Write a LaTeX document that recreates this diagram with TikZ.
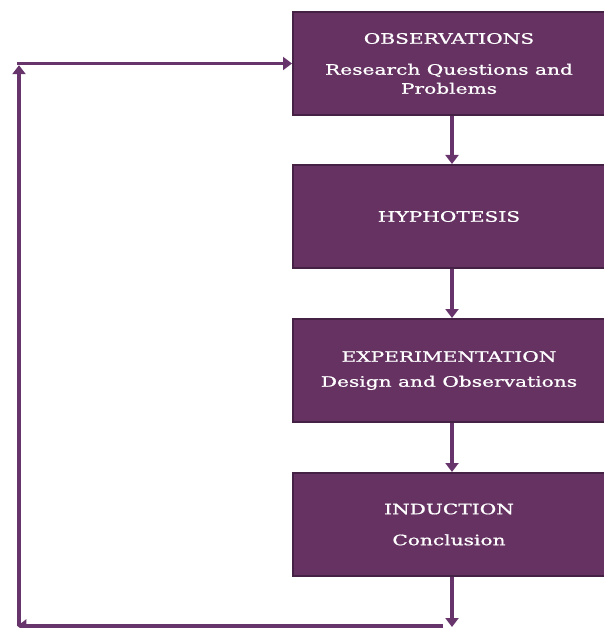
\documentclass[tikz,border=0pt]{standalone}
\usepackage{fontspec}
\setmainfont{DejaVu Serif}[FakeStretch=1.4, FakeBold=0.9]
\usetikzlibrary{arrows.meta}

\definecolor{boxfill}{RGB}{101,50,98}
\definecolor{boxline}{RGB}{70,33,70}
\definecolor{flowline}{RGB}{104,52,108}

\begin{document}
\begin{tikzpicture}[x=1pt, y=-1pt,
	stage/.style={draw=boxline, line width=2pt, fill=boxfill,
		minimum width=312pt, minimum height=103pt, inner sep=0pt,
		text=white, align=center, font=\fontsize{14.4}{19}\selectfont},
	flow/.style={draw=flowline, line width=3.4pt,
		-{Triangle[width=13pt,length=9pt]}}]
	
	% ----------------------------
	% 0) Canvas
	% ----------------------------
	\useasboundingbox (0,0) rectangle (603,628);
	
	% ----------------------------
	% 1) Stages of the method
	% ----------------------------
	\def\cx{449}
	\node[stage] (obs) at (\cx,63.5)
	{OBSERVATIONS\\[12pt] Research Questions and\\ Problems};
	\node[stage] (hyp) at (\cx,216.5) {HYPHOTESIS};
	\node[stage] (exp) at (\cx,370.5)
	{EXPERIMENTATION\\[6pt] Design and Observations};
	\node[stage] (ind) at (\cx,524.5)
	{INDUCTION\\[12pt] Conclusion};
	
	% ----------------------------
	% 2) Downward arrows
	% ----------------------------
	\draw[flow] ([xshift=3pt]obs.south) -- ([xshift=3pt]hyp.north);
	\draw[flow] ([xshift=3pt]hyp.south) -- ([xshift=3pt]exp.north);
	\draw[flow] ([xshift=3pt]exp.south) -- ([xshift=3pt]ind.north);
	
	% ----------------------------
	% 3) Feedback loop back to observations
	% ----------------------------
	\coordinate (down) at (452,627);
	\coordinate (br) at (443,626);
	\coordinate (bl) at (19,626);
	\coordinate (tl) at (19,63.5);
	
	\draw[flow] ([xshift=3pt]ind.south) -- (down);
	\draw[flow] (br) -- ([xshift=-1.7pt]bl);
	\draw[flow] (bl) -- ([yshift=-1.7pt]tl);
	\draw[flow] ([xshift=-1.7pt]tl) -- (obs.west);
	
\end{tikzpicture}
\end{document}
